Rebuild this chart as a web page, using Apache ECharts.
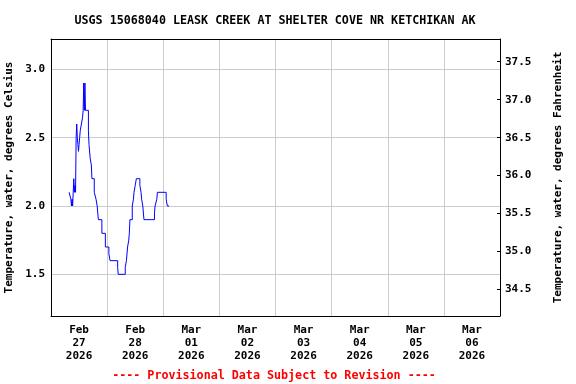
<!DOCTYPE html>
<html>
<head>
<meta charset="utf-8">
<script src="https://cdn.jsdelivr.net/npm/echarts@6/dist/echarts.min.js"></script>
<style>html,body{margin:0;padding:0;background:#fff}#c{width:576px;height:384px}</style>
</head>
<body>
<div id="c"></div>
<script>
// ---- data (local time, USGS 15-minute record, step changes) ----
var obsTimes = [
  '02-27 07:45','02-27 08:30','02-27 08:45','02-27 09:00','02-27 09:15','02-27 09:30','02-27 09:45',
  '02-27 10:00','02-27 10:15','02-27 10:30','02-27 10:45','02-27 11:00','02-27 11:15','02-27 11:30',
  '02-27 11:45','02-27 12:00','02-27 12:15','02-27 12:30','02-27 13:00','02-27 13:30','02-27 13:45',
  '02-27 14:00','02-27 14:15','02-27 14:30','02-27 14:45','02-27 16:00','02-27 16:15','02-27 16:45',
  '02-27 17:15','02-27 17:30','02-27 18:30','02-27 19:15','02-27 19:45','02-27 20:15','02-27 21:45',
  '02-27 23:15','02-28 00:45','02-28 01:15','02-28 04:30','02-28 04:45','02-28 07:45','02-28 08:15',
  '02-28 08:45','02-28 09:15','02-28 09:30','02-28 09:45','02-28 10:45','02-28 11:15','02-28 11:30',
  '02-28 12:00','02-28 12:30','02-28 14:00','02-28 14:30','02-28 14:45','02-28 15:15','02-28 15:45',
  '02-28 20:15','02-28 20:30','02-28 21:15','02-28 21:30','03-01 01:15','03-01 01:45','03-01 02:30'
];
var tempC = [
  2.1, 2.05, 2.0, 2.05, 2.0, 2.1, 2.2,
  2.1, 2.15, 2.1, 2.5, 2.6, 2.5, 2.45,
  2.4, 2.45, 2.5, 2.55, 2.6, 2.65, 2.7,
  2.9, 2.7, 2.9, 2.7, 2.55, 2.45, 2.35,
  2.3, 2.2, 2.1, 2.05, 2.0, 1.9, 1.8,
  1.7, 1.65, 1.6, 1.55, 1.5, 1.55, 1.6,
  1.7, 1.75, 1.8, 1.9, 2.0, 2.05, 2.1,
  2.15, 2.2, 2.15, 2.1, 2.05, 2.0, 1.9,
  1.95, 2.0, 2.05, 2.1, 2.05, 2.0, 2.0
];
var dayLabels = ['Feb\n27\n2026','Feb\n28\n2026','Mar\n01\n2026','Mar\n02\n2026',
                 'Mar\n03\n2026','Mar\n04\n2026','Mar\n05\n2026','Mar\n06\n2026'];
var celsiusTicks = [1.5, 2.0, 2.5, 3.0];
var fahrenheitTicks = [34.5, 35.0, 35.5, 36.0, 36.5, 37.0, 37.5];
var titleText = 'USGS 15068040 LEASK CREEK AT SHELTER COVE NR KETCHIKAN AK';
var footerText = '---- Provisional Data Subject to Revision ----';
var leftName = 'Temperature, water, degrees Celsius';
var rightName = 'Temperature, water, degrees Fahrenheit';

// days since Feb 27 2026 00:00
function toDays(s) {
  var mo = +s.slice(0,2), dd = +s.slice(3,5), hh = +s.slice(6,8), mi = +s.slice(9,11);
  var d = (mo === 2) ? dd - 27 : dd + 1;
  return d + hh / 24 + mi / 1440;
}
var seriesData = obsTimes.map(function (t, i) { return [toDays(t), tempC[i]]; });

var cMin = 1.195, cMax = 3.222;
var FONT = 'DejaVu Sans Mono';
var txt = { fontFamily: FONT, fontWeight: 'bold', fontSize: 11, color: '#000' };

var chart = echarts.init(document.getElementById('c'), null, { renderer: 'canvas' });
chart.setOption({
  animation: false,
  backgroundColor: '#fff',
  graphic: [
    { type: 'text', x: 275, y: 21, silent: true,
      style: { text: titleText, align: 'center', verticalAlign: 'middle',
               font: 'bold 11.7px "DejaVu Sans Mono"', fill: '#000' } },
    { type: 'text', x: 274, y: 376, silent: true,
      style: { text: footerText, align: 'center', verticalAlign: 'middle',
               font: 'bold 11.7px "DejaVu Sans Mono"', fill: '#ff0000' } }
  ],
  grid: { left: 51, right: 76, top: 39, bottom: 68, show: false,
          containLabel: false, outerBoundsMode: 'none' },
  xAxis: [
    { type: 'value', min: 0, max: 8, interval: 1, position: 'bottom',
      axisLine: { show: true, onZero: false, lineStyle: { color: '#000', width: 1 } },
      axisTick: { show: false }, axisLabel: { show: false },
      splitLine: { show: true, lineStyle: { color: '#cccccc', width: 1 } } },
    { type: 'value', min: 0, max: 8, interval: 0.5, position: 'top',
      axisLine: { show: true, onZero: false, lineStyle: { color: '#000', width: 1 } },
      axisTick: { show: false }, splitLine: { show: false }, axisLabel: { show: false } },
    { type: 'value', min: 0, max: 8, interval: 0.5, position: 'bottom',
      axisLine: { show: false }, axisTick: { show: false }, splitLine: { show: false },
      axisLabel: Object.assign({ margin: 8, lineHeight: 13, showMinLabel: true, showMaxLabel: true,
        formatter: function (v) {
          var f = v - Math.floor(v);
          if (Math.abs(f - 0.5) < 1e-6) { return dayLabels[Math.floor(v)] || ''; }
          return '';
        } }, txt) }
  ],
  yAxis: [
    { type: 'value', min: cMin, max: cMax, position: 'left',
      name: leftName, nameLocation: 'middle', nameGap: 32, nameRotate: 90,
      nameTextStyle: { fontFamily: FONT, fontWeight: 'bold', fontSize: 11, color: '#000' },
      axisLine: { show: true, onZero: false, lineStyle: { color: '#000', width: 1 } },
      axisTick: { show: false },
      axisLabel: Object.assign({ margin: 6, customValues: celsiusTicks,
        formatter: function (v) { return v.toFixed(1); } }, txt),
      splitLine: { show: true, lineStyle: { color: '#cccccc', width: 1 } } },
    { type: 'value', min: cMin * 1.8 + 32, max: cMax * 1.8 + 32, position: 'right',
      name: rightName, nameLocation: 'middle', nameGap: 53, nameRotate: 90,
      nameTextStyle: { fontFamily: FONT, fontWeight: 'bold', fontSize: 11, color: '#000' },
      axisLine: { show: true, onZero: false, lineStyle: { color: '#000', width: 1 } },
      axisTick: { show: true, inside: true, length: 3, customValues: fahrenheitTicks, lineStyle: { color: '#000' } },
      axisLabel: Object.assign({ margin: 5, customValues: fahrenheitTicks,
        formatter: function (v) { return v.toFixed(1); } }, txt),
      splitLine: { show: false } }
  ],
  series: [
    { type: 'line', xAxisIndex: 0, yAxisIndex: 0, data: seriesData, step: 'end',
      showSymbol: false, symbol: 'none', lineStyle: { color: '#0000ff', width: 1 } }
  ]
});
</script>
</body>
</html>
